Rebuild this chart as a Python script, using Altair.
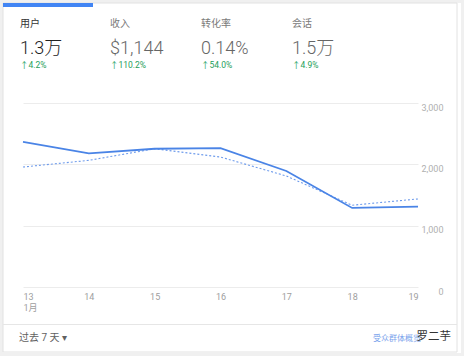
import altair as alt
import pandas as pd

# ---- data ----
days = [13, 14, 15, 16, 17, 18, 19]
users_current = [2367, 2179, 2254, 2265, 1891, 1289, 1311]
users_previous = [1956, 2065, 2254, 2119, 1810, 1333, 1436]
y_ticks = [0, 1000, 2000, 3000]

metric_names = ["用户", "收入", "转化率", "会话"]
metric_values = ["1.3万", "$1,144", "0.14%", "1.5万"]
metric_changes = ["↑4.2%", "↑110.2%", "↑54.0%", "↑4.9%"]

footer_left = "过去 7 天 ▾"
footer_link = "受众群体概览"
watermark = "罗二芋"

FONT = "Roboto, Noto Sans CJK SC, sans-serif"

df = pd.DataFrame({"day": days, "cur": users_current, "prev": users_previous})
one = pd.DataFrame({"t": [""]})

W, H = 395, 184
PL, PT = 23, 103


def txt(s, x, y, size, color, weight="normal", align="left", baseline="middle"):
    return alt.Chart(pd.DataFrame({"t": [s]})).mark_text(
        font=FONT, fontSize=size, color=color, fontWeight=weight,
        align=align, baseline=baseline
    ).encode(x=alt.value(x), y=alt.value(y), text="t:N")


def box(x, x2, y, y2, **kw):
    return alt.Chart(one).mark_rect(**kw).encode(
        x=alt.value(x), x2=alt.value(x2), y=alt.value(y), y2=alt.value(y2)
    )


x_scale = alt.Scale(domain=[13, 19], nice=False, zero=False)
x_axis = alt.Axis(
    values=days, title=None, grid=False, domain=False, ticks=False,
    labelFlush=True, labelPadding=5, labelFontSize=9, labelColor="#9e9e9e",
    labelFont=FONT, format="d",
    labelExpr="datum.value == 13 ? ['13', '1月'] : datum.label",
)
y_scale = alt.Scale(domain=[0, 3000], nice=False)
y_axis = alt.Axis(
    orient="right", values=y_ticks, title=None, domain=False,
    ticks=False, grid=True, gridColor="#ececec", labelAlign="right",
    labelPadding=25, labelBaseline="top", labelFlush=True, labelFontSize=9,
    labelColor="#b0b0b0", labelFont=FONT,
    labelExpr="format(datum.value, ',.0f')",
)

prev_line = alt.Chart(df).mark_line(
    color="#6f9cec", strokeWidth=1.1, strokeDash=[2, 2]
).encode(
    x=alt.X("day:Q", scale=x_scale, axis=x_axis),
    y=alt.Y("prev:Q", scale=y_scale, axis=y_axis),
)
cur_line = alt.Chart(df).mark_line(color="#4a84e6", strokeWidth=1.8).encode(
    x=alt.X("day:Q", scale=x_scale, axis=x_axis),
    y=alt.Y("cur:Q", scale=y_scale, axis=y_axis),
)

layers = [prev_line, cur_line]

# card frame & decorations
layers.append(box(-PL, 464 - PL, -PT, 356 - PT, fill=None, stroke="#f0f0f0", strokeWidth=6))
layers.append(box(-20, 434, -100, 249, fill=None, stroke="#e2e2e2", strokeWidth=1))
layers.append(box(-20, 70, -100, -96, color="#4285f4"))
layers.append(box(-20, 434, 221, 222, color="#e6e6e6"))

col_x = [-3, 87, 178, 269]
for i in range(4):
    first = i == 0
    layers.append(txt(metric_names[i], col_x[i], -79.5, 10,
                      "#333333" if first else "#7a7a7a"))
    layers.append(txt(metric_values[i], col_x[i], -49, 18,
                      "#212121" if first else "#666666", weight=300,
                      baseline="alphabetic"))
    layers.append(txt(metric_changes[i], col_x[i], -38.5, 8.5, "#1e9e5a"))

layers.append(txt(footer_left, -4, 235, 10, "#616161"))
layers.append(txt(footer_link, 350, 236, 8, "#7aa3ec"))
layers.append(txt(watermark, 428, 234, 11.5, "#333333", align="right"))

chart = alt.layer(*layers).properties(
    width=W, height=H,
    autosize=alt.AutoSizeParams(type="none"),
    padding={"left": PL, "top": PT, "right": 464 - PL - W, "bottom": 356 - PT - H},
    background="white",
).configure_view(stroke=None)

chart.save("out.html", embed_options={"renderer": "svg", "actions": False})
